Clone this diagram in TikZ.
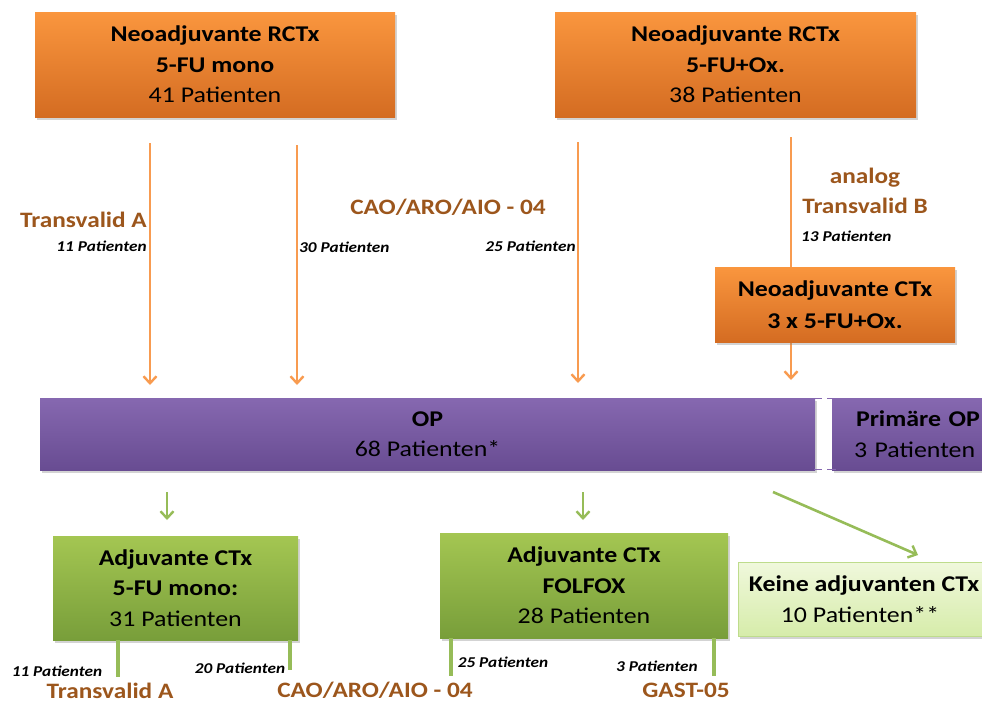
\documentclass[tikz,border=0pt]{standalone}
\usepackage{fontspec}
\setmainfont[FakeStretch=1.15]{Carlito}
\usetikzlibrary{arrows.meta,shadows,backgrounds}
\definecolor{orT}{RGB}{250,150,62}
\definecolor{orB}{RGB}{212,108,34}
\definecolor{puT}{RGB}{134,104,176}
\definecolor{puB}{RGB}{104,76,146}
\definecolor{grT}{RGB}{164,198,82}
\definecolor{grB}{RGB}{120,158,58}
\definecolor{lgT}{RGB}{240,248,220}
\definecolor{lgB}{RGB}{214,236,170}
\definecolor{lgE}{RGB}{190,220,140}
\definecolor{oarrc}{RGB}{248,155,80}
\definecolor{garrc}{RGB}{150,188,88}
\definecolor{brown}{RGB}{156,86,28}
\tikzset{
  box/.style={inner sep=0pt, align=center, font=\fontsize{22.5}{30.5}\selectfont,
    drop shadow={shadow xshift=2pt, shadow yshift=-3pt, opacity=0.35}},
  obox/.style={box, top color=orT, bottom color=orB},
  pbox/.style={box, top color=puT, bottom color=puB},
  gbox/.style={box, top color=grT, bottom color=grB},
  lbox/.style={box, top color=lgT, bottom color=lgB, draw=lgE, line width=0.8pt},
  oarr/.style={draw=oarrc, line width=2.6pt, -{Straight Barb[length=7pt,width=13pt,line width=2.4pt]}},
  garr/.style={draw=garrc, line width=2.6pt, -{Straight Barb[length=7pt,width=13pt,line width=2.4pt]}},
  gline/.style={draw=garrc, line width=4.5pt},
  blabel/.style={text=brown, font=\bfseries\fontsize{22}{30}\selectfont, align=center, inner sep=0pt},
  slabel/.style={font=\bfseries\itshape\fontsize{15}{17}\selectfont, inner sep=0pt},
}
\begin{document}
\begin{tikzpicture}[x=1pt,y=-1pt]
\useasboundingbox (0,0) rectangle (982,704);

% orange arrow behind the CTx box
\coordinate (s4) at (791,137);
\coordinate (e4) at (791,380);
\draw[oarr] (s4) -- (e4);

% top boxes
\node[obox, minimum width=360, minimum height=105] (n1) at (215,64.5)
  {\textbf{Neoadjuvante RCTx}\\\textbf{5-FU mono}\\41 Patienten};
\node[obox, minimum width=361, minimum height=105] (n2) at (735.5,64.5)
  {\textbf{Neoadjuvante RCTx}\\\textbf{5-FU+Ox.}\\38 Patienten};
\node[obox, minimum width=240, minimum height=75, font=\bfseries\fontsize{22.5}{32}\selectfont] (ctx) at (835,304.5)
  {Neoadjuvante CTx\\3 x 5-FU+Ox.};

% OP bar
\node[pbox, minimum width=775, minimum height=72] (op) at (427.5,434)
  {\textbf{OP}\\68 Patienten*};
\node[pbox, minimum width=158, minimum height=72, text width=150, align=left] (prim) at (911,434)
  {\hspace*{20pt}\textbf{Primäre OP}\\\hspace*{18pt}3 Patienten};
\draw[draw=puT, line width=1.2pt] (814,398.5) -- (822,398.5) (827,398.5) -- (836,398.5)
  (814,469.5) -- (822,469.5) (827,469.5) -- (836,469.5);

% bottom boxes
\node[gbox, minimum width=245, minimum height=104] (a1) at (175.5,588)
  {\textbf{Adjuvante CTx}\\\textbf{5-FU mono:}\\31 Patienten};
\node[gbox, minimum width=288, minimum height=105] (a2) at (584,585.5)
  {\textbf{Adjuvante CTx}\\\textbf{FOLFOX}\\28 Patienten};
\node[lbox, minimum width=252, minimum height=74] (a3) at (864,599)
  {\textbf{Keine adjuvanten CTx}\\10 Patienten**\hspace*{8pt}};

% orange arrows
\coordinate (s1) at (150,143); \coordinate (e1) at (150,385);
\coordinate (s2) at (297,145); \coordinate (e2) at (297,385);
\coordinate (s3) at (578,142); \coordinate (e3) at (578,383);
\draw[oarr] (s1) -- (e1);
\draw[oarr] (s2) -- (e2);
\draw[oarr] (s3) -- (e3);

% green arrows
\coordinate (g1s) at (167,492); \coordinate (g1e) at (167,520);
\coordinate (g2s) at (583,492); \coordinate (g2e) at (583,520);
\coordinate (g3s) at (773,492); \coordinate (g3e) at (918,555);
\draw[garr] (g1s) -- (g1e);
\draw[garr] (g2s) -- (g2e);
\draw[garr] (g3s) -- (g3e);

% green lines below boxes
\coordinate (l1) at (118,677);
\coordinate (l2) at (290,670);
\coordinate (l3) at (451,676);
\coordinate (l4) at (714,676);
\draw[gline] (a1.south -| l1) -- (l1);
\draw[gline] (a1.south -| l2) -- (l2);
\draw[gline] (a2.south -| l3) -- (l3);
\draw[gline] (a2.south -| l4) -- (l4);

% top labels
\node[blabel, anchor=east] (tA) at (147,220) {Transvalid A};
\node[slabel, anchor=east] (p11) at (147,246) {11 Patienten};
\node[slabel, anchor=west] (p30) at (299,247) {30 Patienten};
\node[blabel] (cao) at (448,207) {CAO/ARO/AIO - 04};
\node[slabel, anchor=east] (p25) at (576,246) {25 Patienten};
\node[blabel] (tB) at (865,191) {analog\\Transvalid B};
\node[slabel, anchor=west] (p13) at (801,236) {13 Patienten};

% bottom labels
\node[slabel] (q11) at (57,671) {11 Patienten};
\node[slabel] (q20) at (240,668) {20 Patienten};
\node[slabel] (q25) at (503,662) {25 Patienten};
\node[slabel] (q3) at (657,666) {3 Patienten};
\node[blabel] (bA) at (110,691) {Transvalid A};
\node[blabel] (bC) at (375,690) {CAO/ARO/AIO - 04};
\node[blabel] (bG) at (686,690) {GAST-05};
\end{tikzpicture}
\end{document}
